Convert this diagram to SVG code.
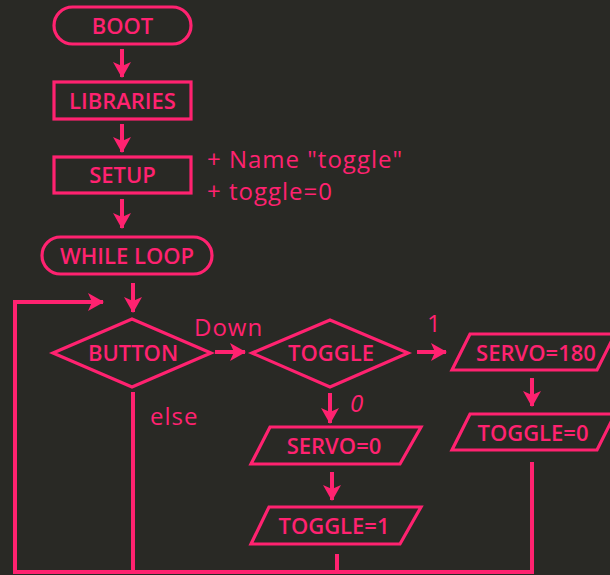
<svg xmlns="http://www.w3.org/2000/svg" width="610" height="575" viewBox="0 0 610 575">
<defs>
<marker id="ah" markerUnits="userSpaceOnUse" markerWidth="16" markerHeight="20" viewBox="0 0 16 20" refX="15" refY="10" orient="auto">
<path d="M0,1 L16,10 L0,19 L4,10 z" fill="#ff2270"/>
</marker>
<style>
.s{fill:none;stroke:#ff2270;stroke-width:3.2;stroke-linejoin:miter}
.t{fill:#ff2270;font-family:"Open Sans","Liberation Sans",sans-serif;font-weight:600;font-size:22px;text-anchor:middle}
.h{fill:#ff2270;font-family:"Open Sans","Liberation Sans",sans-serif;font-weight:400;font-size:24px;letter-spacing:1px}
.c{fill:none;stroke:#ff2270;stroke-width:4}
.a{fill:none;stroke:#ff2270;stroke-width:4;marker-end:url(#ah)}
</style>
</defs>
<rect width="610" height="575" fill="#292925"/>
<g id="connectors">
<path class="a" d="M122,49 V77"/>
<path class="a" d="M122,124 V152"/>
<path class="a" d="M122,199 V228"/>
<path class="a" d="M133,283 V312"/>
<path class="a" d="M215,352 H245"/>
<path class="a" d="M417,352 H446"/>
<path class="a" d="M532,378 V406"/>
<path class="a" d="M330,393 V423"/>
<path class="a" d="M332,472 V500"/>
<path class="a" d="M532,462 V572 H15 V302 H103"/>
<path class="c" d="M133,392 V572"/>
<path class="c" d="M337,554 V572"/>
<text class="h" x="194" y="336">Down</text>
<text class="h" x="427" y="332" font-size="22">1</text>
<text class="h" x="350" y="412" font-size="22" font-style="italic">0</text>
<text class="h" x="150" y="425">else</text>
</g>
<g id="boot">
<rect class="s" x="54" y="7" width="137" height="37" rx="18.5"/>
<text class="t" x="122.5" y="33.5">BOOT</text>
</g>
<g id="libraries">
<rect class="s" x="54" y="82" width="137" height="37"/>
<text class="t" x="122.5" y="109">LIBRARIES</text>
</g>
<g id="setup">
<rect class="s" x="54" y="157" width="137" height="36"/>
<text class="t" x="122.5" y="183">SETUP</text>
</g>
<g id="setup-note">
<text class="h" x="207" y="168">+ Name "toggle"</text>
<text class="h" x="207" y="200">+ toggle=0</text>
</g>
<g id="while-loop">
<rect class="s" x="42" y="237" width="170" height="37" rx="18.5"/>
<text class="t" x="127" y="264">WHILE LOOP</text>
</g>
<g id="button">
<polygon class="s" points="53,353 132,319 211,353 132,387"/>
<text class="t" x="133" y="361">BUTTON</text>
</g>
<g id="toggle">
<polygon class="s" points="252,353 330,320 408,353 330,387"/>
<text class="t" x="331" y="361">TOGGLE</text>
</g>
<g id="servo180">
<polygon class="s" points="470,334 615,334 597,370 452,370"/>
<text class="t" x="536" y="361">SERVO=180</text>
</g>
<g id="toggle0">
<polygon class="s" points="470,414 615,414 597,450 452,450"/>
<text class="t" x="533" y="441">TOGGLE=0</text>
</g>
<g id="servo0">
<polygon class="s" points="270,427 421,427 400,464 251,464"/>
<text class="t" x="334" y="454">SERVO=0</text>
</g>
<g id="toggle1">
<polygon class="s" points="269,507 421,507 400,544 251,544"/>
<text class="t" x="334" y="534">TOGGLE=1</text>
</g>
</svg>
